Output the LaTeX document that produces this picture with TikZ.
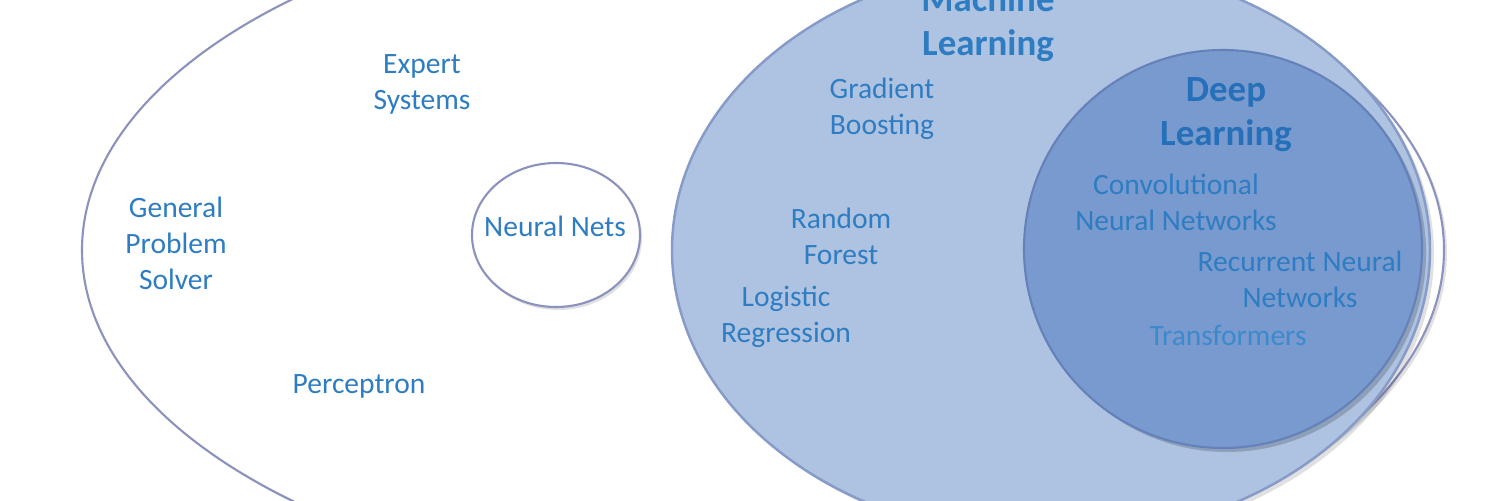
\documentclass[tikz,border=0pt]{standalone}
\usepackage{fontspec}
\setmainfont{Carlito}
\definecolor{txt}{RGB}{46,125,194}
\definecolor{txtdark}{RGB}{38,112,185}
\definecolor{txtlight}{RGB}{60,138,205}
\definecolor{edge}{RGB}{140,146,190}
\definecolor{mlfill}{RGB}{174,194,226}
\definecolor{mledge}{RGB}{135,155,200}
\definecolor{dlfill}{RGB}{120,154,206}
\definecolor{dledge}{RGB}{100,130,185}
\tikzset{
  lbl/.style={text=txt, font=\fontsize{16.8}{20.5}\selectfont, align=center, inner sep=0pt},
  head/.style={text=txtdark, font=\fontsize{21}{25}\selectfont\bfseries, align=center, inner sep=0pt},
  outerline/.style={draw=edge, line width=1.2pt, fill=white},
  softshadow/.style={fill=black, opacity=0.12},
}
\begin{document}
\begin{tikzpicture}[x=0.02cm,y=-0.02cm]
\useasboundingbox (0,0) rectangle (1500,500);
\clip (0,0) rectangle (1500,500);
% outer ellipse (AI)
\fill[softshadow] (766,253) ellipse [x radius=681, y radius=347];
\draw[outerline] (763,250) ellipse [x radius=681, y radius=347];
% neural nets
\fill[softshadow] (558,238) ellipse [x radius=84, y radius=72];
\draw[outerline] (556,235) ellipse [x radius=84, y radius=72];
% machine learning
\fill[softshadow] (1055,254) ellipse [x radius=379, y radius=289];
\draw[draw=mledge, line width=1.4pt, fill=mlfill] (1051,250) ellipse [x radius=379, y radius=289];
% deep learning
\fill[black, opacity=0.18] (1227,253) circle [radius=199];
\draw[draw=dledge, line width=1.2pt, fill=dlfill] (1223,249) circle [radius=199];
% labels
\node[head, text=txt] (ml) at (988,24) {Machine\\Learning};
\node[head] (dl) at (1226,115) {Deep\\Learning};
\node[lbl] (gb) at (882,109) {Gradient\\Boosting};
\node[lbl] (rf) at (841,236) {Random\\Forest};
\node[lbl] (lr) at (786,317) {Logistic\\Regression};
\node[lbl] (es) at (422,84) {Expert\\Systems};
\node[lbl] (gps) at (176,243) {General\\Problem\\Solver};
\node[lbl] (pc) at (359,386) {Perceptron};
\node[lbl] (nn) at (555,226) {Neural Nets};
\node[lbl] (cnn) at (1176,202) {Convolutional\\Neural Networks};
\node[lbl] (rnn) at (1300,279) {Recurrent Neural\\Networks};
\node[lbl, text=txtlight] (tf) at (1228,335) {Transformers};
\end{tikzpicture}
\end{document}
